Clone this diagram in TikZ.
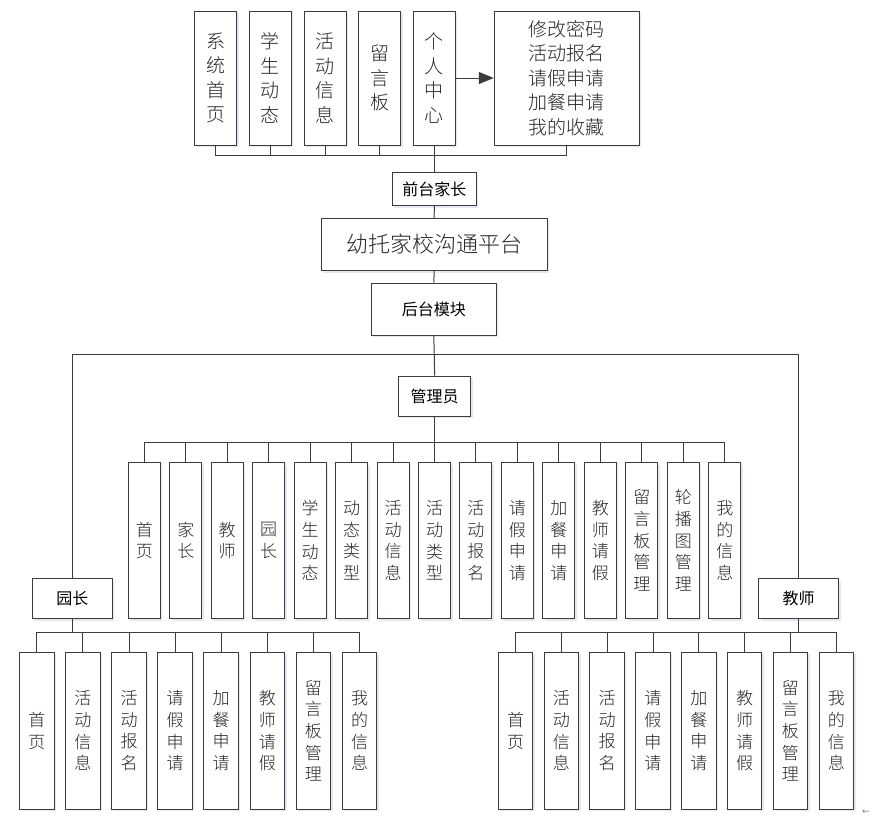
\documentclass[tikz,border=0pt]{standalone}
\usepackage{fontspec}
\setmainfont{Noto Sans CJK SC}
\newfontfamily\lightcjk{Noto Sans CJK SC Light}
\newfontfamily\symfont{DejaVu Sans}
\usetikzlibrary{arrows.meta,shadows}
\definecolor{edge}{HTML}{3C3C3C}
\definecolor{shade}{HTML}{E4E8F0}
\definecolor{ink}{HTML}{262626}
\begin{document}
\begin{tikzpicture}[x=1pt,y=-1pt,
  box/.style={draw=edge, line width=1pt, fill=white, inner sep=0pt, align=center,
     drop shadow={shadow xshift=2pt, shadow yshift=-2pt, fill=shade, opacity=1}},
  topcol/.style={box, minimum width=42pt, minimum height=134pt, text=ink,
     font=\lightcjk\fontsize{19}{24.5}\selectfont},
  headbox/.style={box, font=\fontsize{16}{19}\selectfont},
  admcol/.style={box, minimum width=32pt, minimum height=156pt, text=ink,
     font=\lightcjk\fontsize{17}{21.7}\selectfont},
  subcol/.style={box, minimum width=34.5pt, minimum height=157pt, text=ink,
     font=\lightcjk\fontsize{17}{21.7}\selectfont},
  link/.style={draw=edge, line width=1pt}
]
\useasboundingbox (0,0) rectangle (872,817);

% ---------- front (parents) ----------
\node[topcol] (t1) at (215.5,78) {系\\统\\首\\页};
\node[topcol] (t2) at (270.2,78) {学\\生\\动\\态};
\node[topcol] (t3) at (325,78) {活\\动\\信\\息};
\node[topcol] (t4) at (379.7,78) {留\\言\\板};
\node[topcol] (t5) at (434.3,78) {个\\人\\中\\心};
\node[box, minimum width=145pt, minimum height=134pt, text=ink,
      font=\lightcjk\fontsize{19}{24.5}\selectfont] (big) at (566.8,78)
      {修改密码\\活动报名\\请假申请\\加餐申请\\我的收藏};
\node[headbox, minimum width=84pt, minimum height=33pt] (fr) at (434.3,189) {前台家长};
\coordinate (tb) at (434.3,155);
\foreach \n in {t1,t2,t3,t4,t5,big}
  \draw[link] (\n.south) -- (\n.south |- tb) -| (fr.north);
\draw[link, -{Triangle[length=15pt,width=12pt]}] (t5.east) -- (big.west);

% ---------- platform ----------
\node[box, minimum width=226pt, minimum height=52pt, text=ink,
      font=\lightcjk\fontsize{22}{26}\selectfont] (plat) at (434.2,244.5) {幼托家校沟通平台};
\node[headbox, minimum width=125pt, minimum height=52pt] (back) at (433.8,309) {后台模块};
\draw[link] (fr.south) -- (plat.north);
\draw[link] (plat.south) -- (back.north);

% ---------- roles ----------
\node[headbox, minimum width=72pt, minimum height=40pt] (adm) at (434.7,396) {管理员};
\node[headbox, minimum width=80pt, minimum height=40pt] (yz) at (72.3,598.8) {园长};
\node[headbox, minimum width=80pt, minimum height=40pt] (js) at (798.7,598.8) {教师};
\coordinate (hb) at (434.3,354.3);
\draw[link] (back.south) -- (adm.north);
\draw[link] (yz.north) |- (hb) -| (js.north);

% ---------- admin modules ----------
\coordinate (ab) at (434.7,442.7);
\foreach \t [count=\i from 0] in {
  {首\\页},{家\\长},{教\\师},{园\\长},{学\\生\\动\\态},{动\\态\\类\\型},
  {活\\动\\信\\息},{活\\动\\类\\型},{活\\动\\报\\名},{请\\假\\申\\请},
  {加\\餐\\申\\请},{教\\师\\请\\假},{留\\言\\板\\管\\理},{轮\\播\\图\\管\\理},
  {我\\的\\信\\息}} {
  \node[admcol] (a\i) at ({144.3+41.46*\i},540.5) {\t};
  \draw[link] (a\i.north) -- (a\i.north |- ab) -| (adm.south);
}

% ---------- principal modules ----------
\coordinate (yb) at (72.3,632.7);
\foreach \t [count=\i from 0] in {
  {首\\页},{活\\动\\信\\息},{活\\动\\报\\名},{请\\假\\申\\请},
  {加\\餐\\申\\请},{教\\师\\请\\假},{留\\言\\板\\管\\理},{我\\的\\信\\息}} {
  \node[subcol] (y\i) at ({36.8+46.1*\i},730.7) {\t};
  \draw[link] (y\i.north) -- (y\i.north |- yb) -| (yz.south);
}

% ---------- teacher modules ----------
\coordinate (jb) at (798.7,632.7);
\foreach \t [count=\i from 0] in {
  {首\\页},{活\\动\\信\\息},{活\\动\\报\\名},{请\\假\\申\\请},
  {加\\餐\\申\\请},{教\\师\\请\\假},{留\\言\\板\\管\\理},{我\\的\\信\\息}} {
  \node[subcol] (j\i) at ({515.5+45.83*\i},730.7) {\t};
  \draw[link] (j\i.north) -- (j\i.north |- jb) -| (js.south);
}

\node[text=gray, font=\symfont\fontsize{9}{10}\selectfont, inner sep=0pt] (mark) at (866,812) {←};
\end{tikzpicture}
\end{document}
